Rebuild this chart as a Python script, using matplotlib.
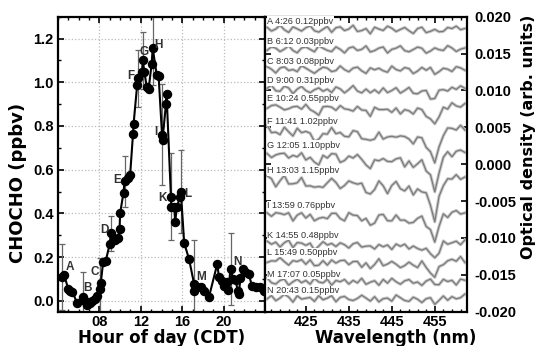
import matplotlib
matplotlib.use('Agg')
import matplotlib.pyplot as plt
import numpy as np
from matplotlib.ticker import MultipleLocator, AutoMinorLocator, FixedLocator

plt.rcParams['font.family'] = ['Liberation Sans', 'DejaVu Sans']
plt.rcParams['font.weight'] = 'bold'
plt.rcParams['axes.unicode_minus'] = False

# ---------------- left panel data: CHOCHO time series ----------------
hours = [4.35, 4.58, 4.99, 5.20, 5.40, 5.86, 6.37, 6.60, 6.80, 7.07, 7.33, 7.55, 7.78,
         8.03, 8.13, 8.36, 8.60, 9.00, 9.10, 9.47, 9.80, 9.95, 10.00, 10.33, 10.43,
         10.75, 10.97, 11.25, 11.30, 11.65, 11.77, 12.12, 12.19, 12.35, 12.57, 12.76,
         13.05, 13.15, 13.53, 13.72, 14.05, 14.10, 14.43, 14.49, 14.91, 14.95, 15.23,
         15.32, 15.49, 15.80, 15.87, 16.19, 16.67, 17.15, 17.18, 17.47, 17.79, 18.10,
         18.59, 19.39, 19.55, 19.80, 20.03, 20.35, 20.45, 20.67, 20.92, 21.15, 21.37,
         21.47, 21.63, 21.88, 22.10, 22.42, 22.74, 23.13, 23.55, 23.87]
chocho = [0.110, 0.120, 0.054, 0.046, 0.040, -0.012, 0.015, 0.000, -0.020, -0.010, 0.000,
          0.010, 0.020, 0.054, 0.080, 0.177, 0.180, 0.260, 0.310, 0.280, 0.285, 0.330,
          0.400, 0.495, 0.546, 0.560, 0.577, 0.765, 0.808, 0.989, 1.018, 1.046, 1.100,
          1.046, 0.980, 0.970, 1.085, 1.157, 1.035, 1.030, 0.760, 0.738, 0.900, 0.945,
          0.477, 0.428, 0.428, 0.361, 0.430, 0.477, 0.500, 0.265, 0.189, 0.077, 0.043,
          0.061, 0.061, 0.046, 0.018, 0.169, 0.108, 0.092, 0.069, 0.085, 0.049, 0.146,
          0.100, 0.095, 0.046, 0.031, 0.105, 0.146, 0.130, 0.123, 0.069, 0.065, 0.065,
          0.046]
nan = float('nan')
chocho_err = [0.15, nan, nan, nan, nan, nan, 0.115, nan, nan, nan, nan, nan, nan,
              0.14, nan, nan, nan, nan, 0.08, nan, nan, nan, nan, nan, 0.115,
              nan, nan, nan, nan, nan, 0.13, nan, 0.13, nan, nan, nan,
              nan, 0.17, nan, nan, 0.23, nan, nan, nan, 0.20, nan, nan,
              nan, nan, nan, 0.19, nan, nan, 0.20, nan, nan, nan, nan,
              nan, nan, nan, nan, nan, nan, nan, 0.165, nan, nan, nan,
              nan, nan, nan, nan, nan, nan, nan, nan, nan]

tag_letters = ['A', 'B', 'C', 'D', 'E', 'F', 'G', 'H', 'I', 'K', 'L', 'M', 'N']
tag_hours = [5.15, 6.81, 7.55, 8.44, 9.69, 11.07, 12.28, 13.69, 13.47, 14.10, 16.50, 17.82, 21.30]
tag_values = [0.154, 0.059, 0.130, 0.326, 0.554, 1.030, 1.138, 1.169, 0.772, 0.472, 0.488, 0.111, 0.177]

hour_ticks = [8, 12, 16, 20]
hour_labels = ['08', '12', '16', '20']

# ---------------- right panel data: spectra ----------------
wavelength = list(range(416, 463))
# glyoxal optical density per ppbv (units of 1e-4)
glyoxal_shape = [0, -2, -6, -3, -1, -4, -8, -4, -2, -5,
                 -9, -12, -14, -8, -4, -3, -5, -8, -10, -6,
                 -4, -7, -10, -14, -20, -12, -6, -9, -14, -10,
                 -8, -11, -15, -12, -17, -14, -12, -20, -32, -50,
                 -24, -6, -2, -1, 0, 0, 0]

trace_ids = ['A', 'B', 'C', 'D', 'E', 'F', 'G', 'H', 'I', 'K', 'L', 'M', 'N']
trace_times = ['4:26', '6:12', '8:03', '9:00', '10:24', '11:41', '12:05', '13:03',
               '13:59', '14:55', '15:49', '17:07', '20:43']
trace_ppbv = [0.12, 0.03, 0.08, 0.31, 0.55, 1.02, 1.10, 1.15, 0.76, 0.48, 0.50, 0.05, 0.15]
trace_offsets = [0.0184, 0.0156, 0.0129, 0.0103, 0.0079, 0.0048, 0.0016, -0.0019,
                 -0.0066, -0.0106, -0.0130, -0.0159, -0.0181]

# residual structure of each measured spectrum (units of 1.6e-4)
resid_A = [1,-2,0,3,-1,-3,2,0,-2,1, 3,-1,-2,0,2,-3,1,2,-1,0, 3,-2,-1,1,-3,2,0,-1,3,1, -2,0,2,-1,-3,1,2,-2,0,3, -1,-2,1,0,2,-1,0]
resid_B = [-1,2,1,-2,0,3,-1,-3,1,2, 0,-2,3,1,-1,-2,2,0,-3,1, 2,-1,0,3,-2,-1,1,2,-3,0, 1,3,-1,-2,0,2,1,-3,-1,2, 0,-1,3,1,-2,0,1]
resid_C = [2,0,-3,1,2,-1,0,-2,3,1, -1,-3,0,2,1,-2,-1,3,0,-2, 1,2,-1,-3,2,0,1,-1,-2,3, 0,-1,2,1,-3,-1,2,0,3,-2, -1,1,0,-2,2,1,-1]
resid_D = [0,3,-1,-2,2,1,-3,0,2,-1, -2,1,3,-1,0,-3,2,1,-2,0, 3,-1,-2,2,0,1,-3,2,-1,0, 2,-2,1,3,-1,-2,0,2,-3,1, 3,0,-2,1,-1,2,0]
resid_E = [-2,1,3,0,-3,-1,2,1,-2,3, 0,-1,-3,2,1,0,-2,3,1,-1, -3,2,0,1,-2,3,-1,0,2,-2, 1,-3,2,0,-1,3,1,-2,0,2, -1,1,-2,3,0,-1,2]
resid_F = [3,-2,1,-3,2,0,-1,3,-2,1, 2,-3,0,1,-2,3,-1,2,0,-3, 1,2,-2,0,3,-1,1,-3,2,0, -2,1,3,-1,-2,2,0,-3,1,3, 0,-2,2,1,-1,3,-1]
resid_G = [-1,-3,2,1,0,-2,3,-1,1,-3, 2,0,-1,3,-2,1,2,-3,0,1, -2,3,1,-1,0,2,-3,1,2,-1, 0,3,-2,1,-1,0,2,-2,3,1, -1,0,2,-3,1,2,0]
resid_H = [2,1,-3,0,3,-2,1,-1,2,-3, 0,1,3,-2,-1,2,0,-3,1,2, -1,0,3,-2,1,-1,2,0,-3,1, 3,-1,0,2,-2,1,-3,2,0,-1, 2,-2,1,0,3,-1,1]
resid_I = [0,-2,3,1,-1,2,-3,0,1,-2, 3,-1,2,0,-3,1,2,-1,-2,3, 0,1,-2,2,-1,-3,1,3,0,-2, 2,-1,1,-3,0,2,3,-2,1,-1, 0,2,-3,1,2,-1,0]
resid_K = [1,-1,2,-3,0,3,-2,1,0,-1, 2,-3,1,3,-1,0,-2,2,1,-3, 0,2,-1,1,3,-2,0,-1,2,-3, 1,0,3,-2,2,-1,-3,1,0,2, -2,3,-1,0,1,-2,2]
resid_L = [-2,0,1,3,-1,-3,2,0,1,-2, 3,-1,0,2,-3,1,-1,2,3,-2, 0,1,-3,2,-1,0,3,-2,1,2, -1,-3,0,2,1,-2,3,0,-1,1, 2,-2,0,1,-1,3,-2]
resid_M = [3,-1,-2,1,2,-3,0,2,-1,1, -2,3,0,-1,2,-3,1,0,2,-2, 1,-1,3,-2,0,1,-3,2,-1,3, 0,-2,1,2,-1,0,-3,1,3,-1, -2,2,0,1,-3,2,1]
resid_N = [-1,2,-2,0,3,1,-3,2,-1,0, 1,-2,3,-1,0,2,-3,1,2,-1, -2,0,3,1,-1,2,-3,0,1,-2, 3,1,-1,-2,2,0,-3,1,3,-1, 0,2,-2,1,-1,0,3]
residuals = [resid_A, resid_B, resid_C, resid_D, resid_E, resid_F, resid_G, resid_H,
             resid_I, resid_K, resid_L, resid_M, resid_N]

SHAPE_UNIT = 1e-4
RESID_UNIT = 1.6e-4

# ---------------- figure ----------------
W, H = 540, 346
fig = plt.figure(figsize=(W / 100, H / 100), dpi=100)
top_px, bot_px = 16.7, 311.7
ax1 = fig.add_axes([58 / W, 1 - bot_px / H, (265 - 58) / W, (bot_px - top_px) / H])
ax2 = fig.add_axes([265 / W, 1 - bot_px / H, (467 - 265) / W, (bot_px - top_px) / H])

# left panel
ax1.errorbar(hours, chocho, yerr=chocho_err, fmt='none', ecolor='#666666',
             elinewidth=0.9, capsize=2, capthick=0.9, zorder=2)
ax1.plot(hours, chocho, '-o', color='black', lw=1.5, ms=5.8, zorder=3)
for t, hx, vy in zip(tag_letters, tag_hours, tag_values):
    ax1.text(hx, vy, t, ha='center', va='center', fontsize=8.5, color='#333333',
             fontweight='bold', zorder=4)
ax1.set_xlim(4, 24)
ax1.set_ylim(-0.05, 1.3)
ax1.xaxis.set_major_locator(FixedLocator(hour_ticks))
ax1.set_xticklabels(hour_labels)
ax1.xaxis.set_minor_locator(MultipleLocator(1))
ax1.yaxis.set_major_locator(MultipleLocator(0.2))
ax1.yaxis.set_minor_locator(MultipleLocator(0.1))
ax1.yaxis.set_major_formatter(matplotlib.ticker.FormatStrFormatter('%.1f'))
ax1.grid(True, which='major', color='#bbbbbb', linestyle=':', linewidth=0.9)
ax1.tick_params(which='both', direction='in', top=True, right=True, labelsize=10.5)
ax1.tick_params(axis='x', pad=2.5)
ax1.tick_params(axis='y', pad=3)
ax1.tick_params(which='major', length=4, width=1.2)
ax1.tick_params(which='minor', length=2.5, width=1)

# right panel
for i in range(len(trace_ids)):
    meas = [trace_offsets[i] + trace_ppbv[i] * s * SHAPE_UNIT + r * RESID_UNIT
            for s, r in zip(glyoxal_shape, residuals[i])]
    ax2.plot(wavelength, meas, color='#c8c8c8', lw=2.3, zorder=2)
    ax2.plot(wavelength, meas, color='#7a7a7a', lw=0.9, zorder=3)
    ax2.text(416.0, trace_offsets[i] + 0.0010,
             f"{trace_ids[i]} {trace_times[i]} {trace_ppbv[i]:.2f}ppbv",
             ha='left', va='center', fontsize=6.6, fontweight='normal', color='#333333',
             bbox=dict(facecolor='white', edgecolor='none', pad=0.2), zorder=4)
ax2.set_xlim(415.5, 462.5)
ax2.set_ylim(-0.020, 0.020)
ax2.xaxis.set_major_locator(FixedLocator([425, 435, 445, 455]))
ax2.xaxis.set_minor_locator(AutoMinorLocator(5))
ax2.yaxis.set_major_locator(MultipleLocator(0.005))
ax2.yaxis.set_major_formatter(matplotlib.ticker.FormatStrFormatter('%.3f'))
ax2.yaxis.tick_right()
ax2.tick_params(which='both', direction='in', top=True, left=True, right=True,
                labelleft=False, labelright=True, labelsize=10.5)
ax2.tick_params(axis='x', pad=2.5)
ax2.tick_params(axis='y', pad=5)
ax2.tick_params(which='major', length=4, width=1.2)
ax2.tick_params(which='minor', length=2.5, width=1)

for ax in (ax1, ax2):
    for sp in ax.spines.values():
        sp.set_linewidth(1.6)

lab = dict(fontweight='bold', family=['DejaVu Sans'])
fig.text(18 / W, 1 - 183 / H, 'CHOCHO (ppbv)', rotation=90, ha='center', va='center',
         fontsize=13, **lab)
fig.text(162 / W, 1 - 343 / H, 'Hour of day (CDT)', ha='center', va='baseline',
         fontsize=12, **lab)
fig.text(396 / W, 1 - 343 / H, 'Wavelength (nm)', ha='center', va='baseline',
         fontsize=12, **lab)
fig.text(528 / W, 1 - 137 / H, 'Optical density (arb. units)', rotation=90,
         ha='center', va='center', fontsize=11.5, **lab)

fig.savefig('out.png', dpi=100)
